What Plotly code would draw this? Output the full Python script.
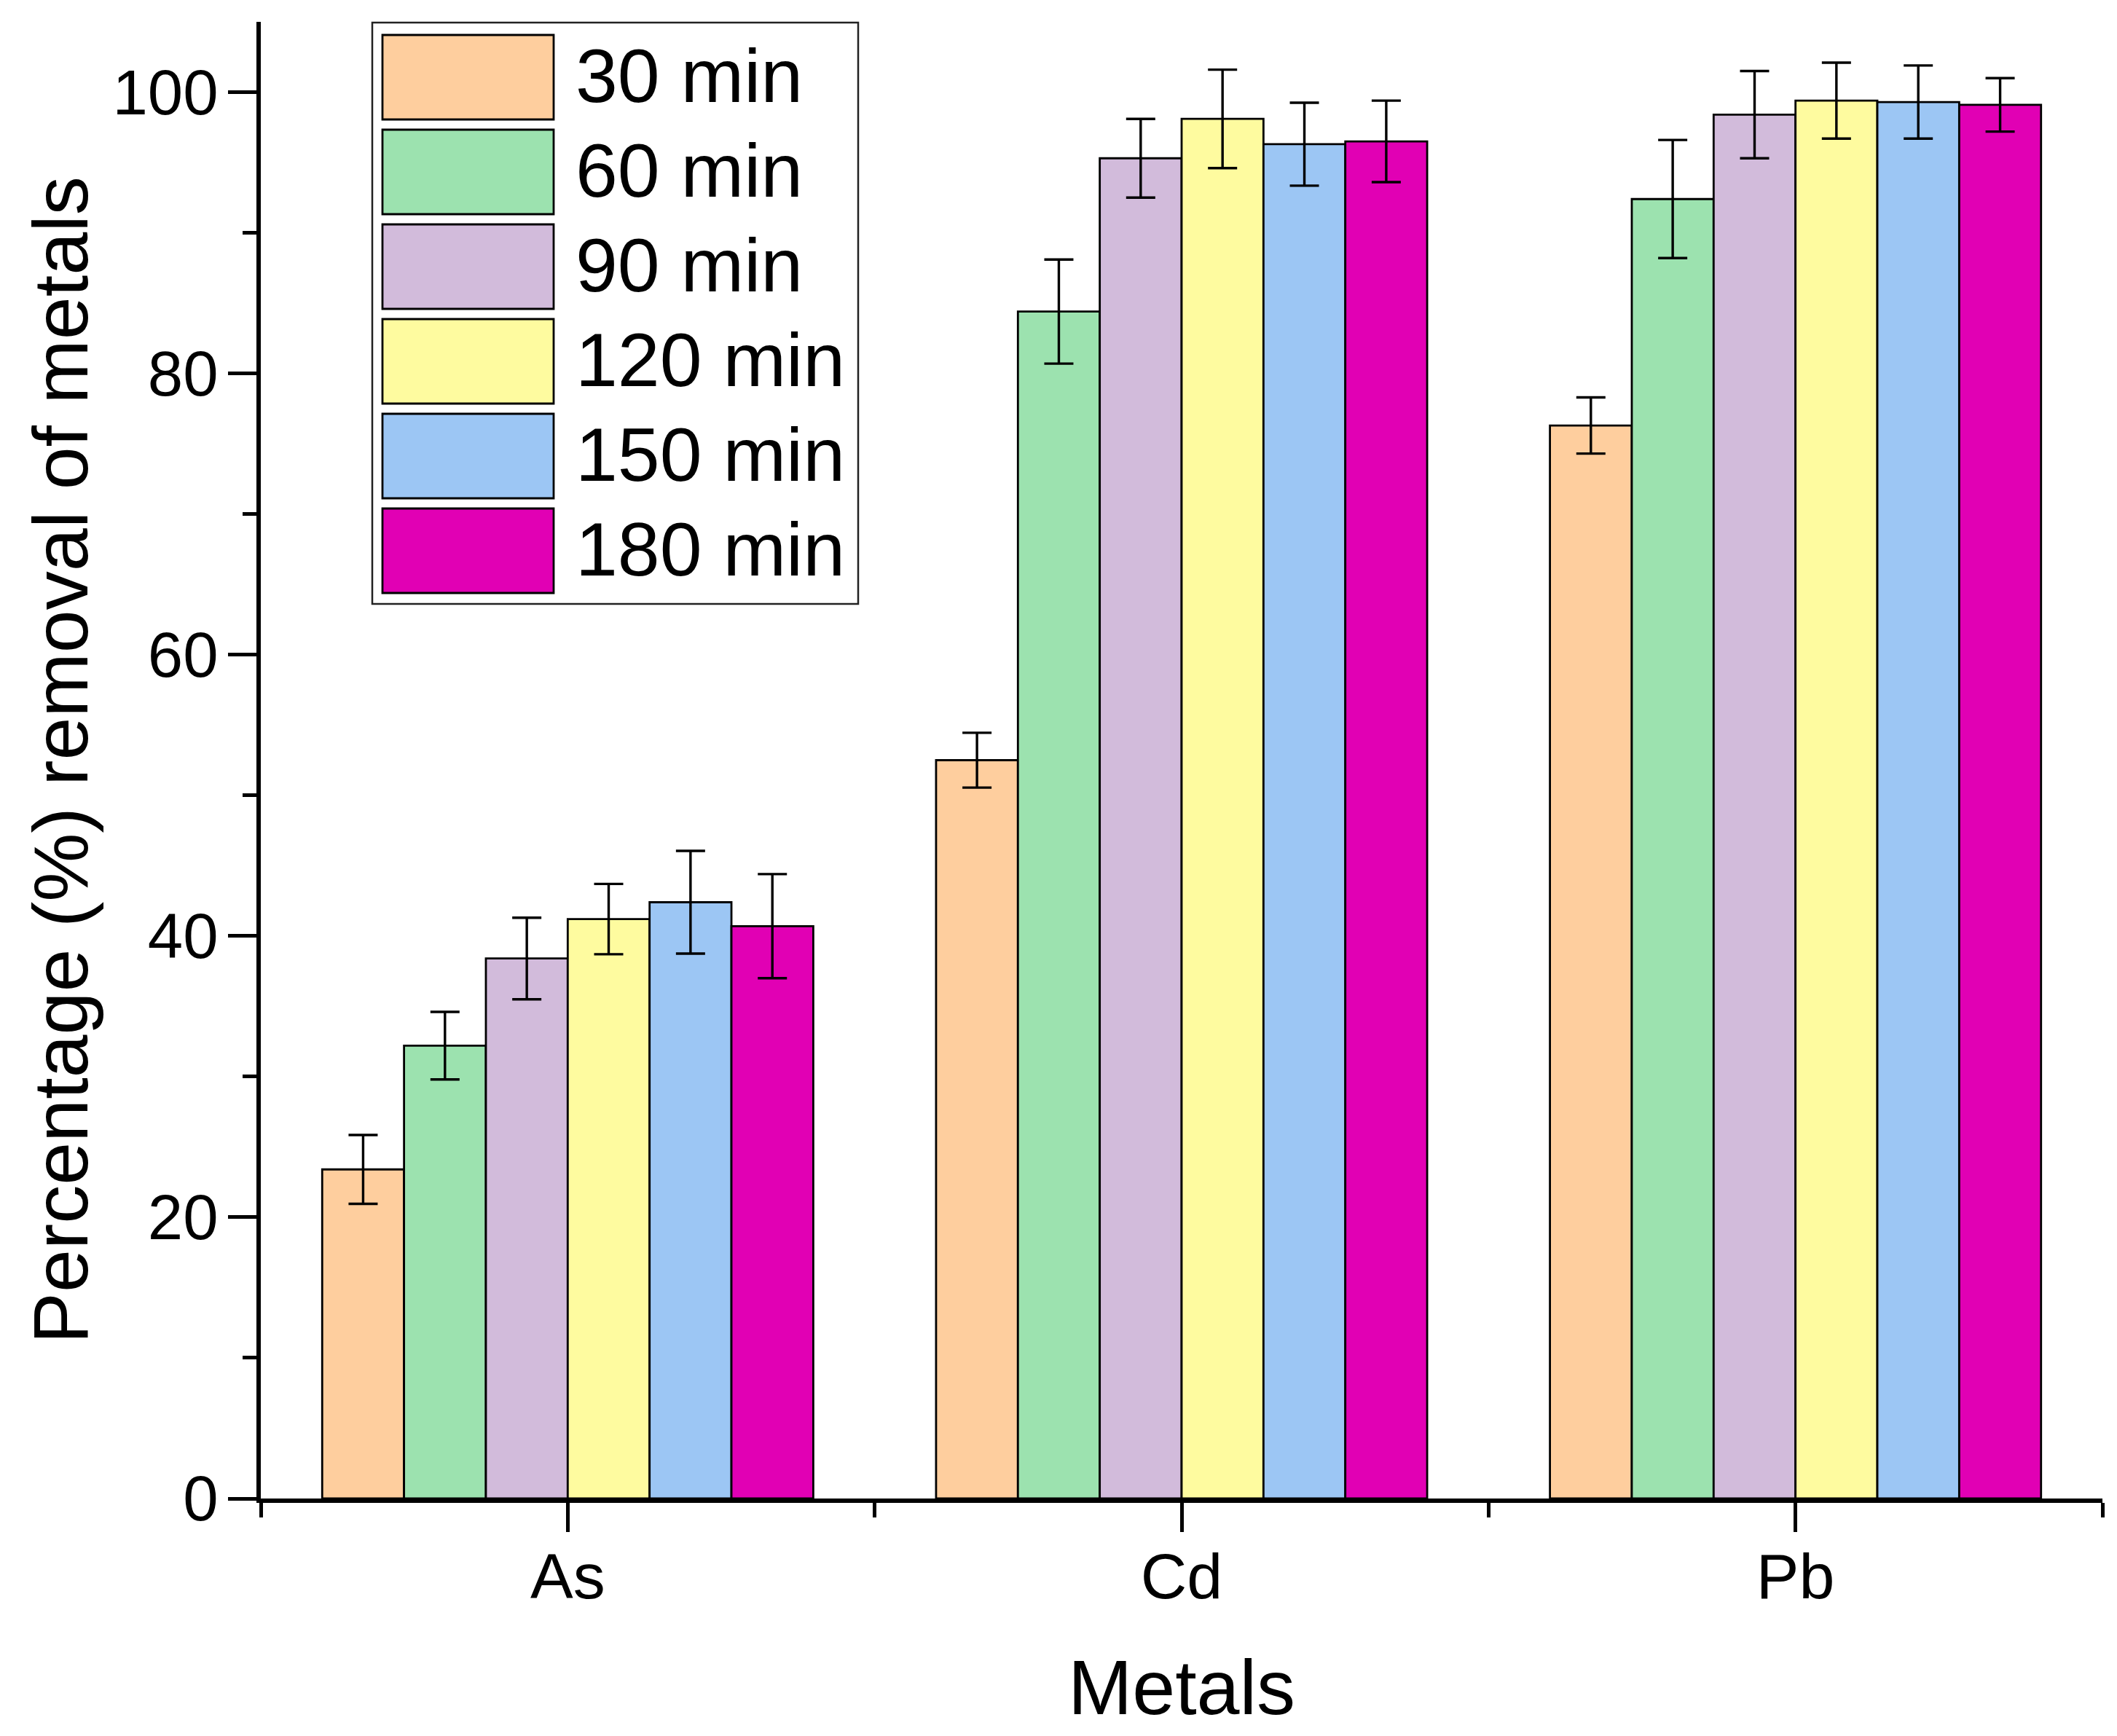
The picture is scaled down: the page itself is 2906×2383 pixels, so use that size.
import plotly.graph_objects as go

metals = ['As', 'Cd', 'Pb']
times = ['30 min', '60 min', '90 min', '120 min', '150 min', '180 min']
colors = ['#FECE9E', '#9CE2AF', '#D2BBDB', '#FEFB9F', '#9CC6F4', '#E100B4']

# removal (%) per time, in metal order As, Cd, Pb
removal_30 = [23.4, 52.5, 76.3]
removal_60 = [32.2, 84.4, 92.4]
removal_90 = [38.4, 95.3, 98.4]
removal_120 = [41.2, 98.1, 99.4]
removal_150 = [42.4, 96.3, 99.3]
removal_180 = [40.7, 96.5, 99.1]

# standard deviations
err_30 = [2.45, 1.95, 2.0]
err_60 = [2.4, 3.7, 4.2]
err_90 = [2.9, 2.8, 3.1]
err_120 = [2.5, 3.5, 2.7]
err_150 = [3.65, 2.95, 2.6]
err_180 = [3.7, 2.9, 1.9]

values = [removal_30, removal_60, removal_90, removal_120, removal_150, removal_180]
errors = [err_30, err_60, err_90, err_120, err_150, err_180]

# page is 2906x2383; the html body adds an 8px margin, so the figure is a bit smaller
PAD = 8
W, H = 2906 - 2 * PAD, 2383 - 2 * PAD
L, T = 358 - PAD, 30 - PAD
R = 2906 - 2886 - PAD
B = 2383 - 2057 - PAD
FONT = 'Liberation Sans, Arial, sans-serif'

xpos = list(range(len(metals)))

fig = go.Figure()
for name, vals, errs, col in zip(times, values, errors, colors):
    fig.add_trace(go.Bar(
        x=xpos, y=vals, name=name,
        marker=dict(color=col, line=dict(color='black', width=2.8)),
        error_y=dict(type='data', array=errs, color='black', thickness=3.4, width=20),
        showlegend=False,
    ))

# hand-made legend with large swatches (plotly's own swatches are tiny)
# positions given in page pixels
def px_x(p):
    return (p - PAD - L) / (W - L - R)

def px_y(p):
    return (H - B - (p - PAD)) / (H - T - B)

shapes = [dict(type='rect', xref='paper', yref='paper',
               x0=px_x(511), x1=px_x(1178), y0=px_y(829), y1=px_y(31),
               line=dict(color='#222', width=2.5), fillcolor='white', layer='above')]
annotations = []
for i, (name, col) in enumerate(zip(times, colors)):
    top = 48 + i * 130
    shapes.append(dict(type='rect', xref='paper', yref='paper',
                       x0=px_x(525), x1=px_x(760), y0=px_y(top + 116), y1=px_y(top),
                       line=dict(color='black', width=2.8), fillcolor=col, layer='above'))
    annotations.append(dict(xref='paper', yref='paper', x=px_x(788), y=px_y(top + 56),
                            xanchor='left', yanchor='middle', showarrow=False,
                            text=name, font=dict(family=FONT, size=104, color='black')))

fig.update_layout(
    width=W, height=H,
    margin=dict(l=L, r=R, t=T, b=B, autoexpand=False),
    plot_bgcolor='white', paper_bgcolor='white',
    barmode='group', bargap=0.2, bargroupgap=0,
    font=dict(family=FONT, color='black'),
    shapes=shapes, annotations=annotations,
    xaxis=dict(
        range=[-0.5, len(metals) - 0.5],
        tickmode='array', tickvals=xpos, ticktext=metals,
        ticks='outside', ticklen=40, tickwidth=5, tickcolor='black',
        showline=True, linewidth=6, linecolor='black',
        showgrid=False, zeroline=False,
        tickfont=dict(family=FONT, size=88, color='black'),
        ticklabelstandoff=-15,
        minor=dict(tickmode='array', tickvals=[i - 0.5 for i in range(len(metals) + 1)],
                   ticks='outside', ticklen=20, tickwidth=5, tickcolor='black', showgrid=False),
        title=dict(text='Metals', font=dict(family=FONT, size=106, color='black'), standoff=88),
    ),
    yaxis=dict(
        range=[0, 105],
        tickmode='linear', tick0=0, dtick=20,
        ticks='outside', ticklen=39, tickwidth=5, tickcolor='black',
        showline=True, linewidth=6, linecolor='black',
        showgrid=False, zeroline=False,
        tickfont=dict(family=FONT, size=87, color='black'),
        ticklabelstandoff=-4,
        minor=dict(dtick=10, ticks='outside', ticklen=19, tickwidth=5, tickcolor='black', showgrid=False),
        title=dict(text='Percentage (%) removal of metals',
                   font=dict(family=FONT, size=106, color='black'), standoff=0),
    ),
)

fig.write_html("out.html")
